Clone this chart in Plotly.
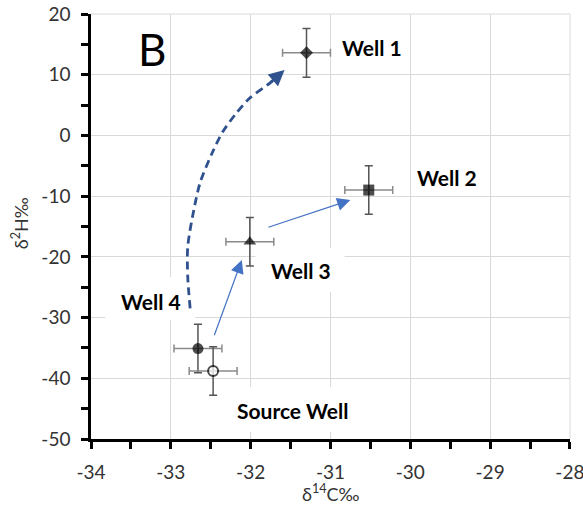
import plotly.graph_objects as go

# ---------------- data ----------------
wells = ["Well 1", "Well 2", "Well 3", "Well 4", "Source Well"]
d14c = [-31.30, -30.52, -32.01, -32.66, -32.47]
d2h = [13.6, -9.0, -17.5, -35.1, -38.8]
d14c_err = [0.3, 0.3, 0.3, 0.3, 0.3]
d2h_err = [4.0, 4.0, 4.0, 4.0, 4.0]
symbols = ["diamond", "square", "triangle-up", "circle", "circle"]
fills = ["black", "black", "black", "black", "white"]

x_ticks = [-34, -33, -32, -31, -30, -29, -28]
y_ticks = [20, 10, 0, -10, -20, -30, -40, -50]

# label positions (data coords)
label_x = [-30.48, -29.54, -31.37, -33.25, -31.47]
label_y = [14.5, -7.0, -22.3, -27.3, -45.3]

# dashed curved path (Well 4 -> Well 1)
curve_x = [-32.758, -32.788, -32.788, -32.704, -32.629, -32.475, -32.349, -32.181, -32.014, -31.763, -31.70]
curve_y = [-28.48, -23.27, -18.33, -11.74, -7.62, -2.68, 0.61, 3.64, 6.11, 8.59, 9.3]

# straight arrows: (start_x, start_y, end_x, end_y)
arrows = [
    (-32.462, -33.15, -32.111, -20.52),
    (-31.797, -15.20, -30.751, -10.64),
]

FONT = "Lato"
TXT = "#333333"
GRID = "#d9d9d9"

fig = go.Figure()

fig.add_trace(go.Scatter(
    x=curve_x, y=curve_y, mode="lines",
    line=dict(color="#2F528F", width=2.8, dash="8px,5px", shape="spline", smoothing=0.8),
    hoverinfo="skip", showlegend=False,
))

# error bars
fig.add_trace(go.Scatter(
    x=d14c, y=d2h, mode="markers",
    marker=dict(size=1, opacity=0),
    error_x=dict(type="data", array=d14c_err, color="#8a8a8a", thickness=1.5, width=4),
    error_y=dict(type="data", array=d2h_err, color="#555555", thickness=1.5, width=4),
    hoverinfo="skip", showlegend=False,
))

# markers on top
fig.add_trace(go.Scatter(
    x=d14c, y=d2h, mode="markers", text=wells,
    marker=dict(symbol=symbols, size=[10, 11, 11, 11, 10], color=fills,
                line=dict(color="black", width=[0, 0, 0, 0, 2])),
    showlegend=False,
))

# outer gridlines at the top and right edges of the plot area
fig.add_shape(type="line", xref="paper", yref="paper", x0=0, x1=1, y0=1, y1=1,
              line=dict(color=GRID, width=1), layer="between")
fig.add_shape(type="line", xref="paper", yref="paper", x0=1, x1=1, y0=0, y1=1,
              line=dict(color=GRID, width=1), layer="between")

# white text-box backgrounds (cover gridlines only)
boxes = [
    (-31.939, -30.823, -18.54, -25.79),
    (-33.821, -32.692, -23.32, -30.40),
    (-32.328, -30.609, -41.44, -48.85),
]
for x0, x1, y0, y1 in boxes:
    fig.add_shape(type="rect", x0=x0, x1=x1, y0=y0, y1=y1, xref="x", yref="y",
                  fillcolor="white", line=dict(width=0), layer="between")

for name, lx, ly in zip(wells, label_x, label_y):
    fig.add_annotation(x=lx, y=ly, text="<b>%s</b>" % name, showarrow=False,
                       font=dict(family=FONT, size=21, color="black"),
                       xanchor="center", yanchor="middle")

fig.add_annotation(x=-33.237, y=14.3, text="B", showarrow=False,
                   font=dict(family=FONT, size=44, color="black"),
                   xanchor="center", yanchor="middle")

for sx, sy, ex, ey in arrows:
    fig.add_annotation(x=ex, y=ey, ax=sx, ay=sy, xref="x", yref="y", axref="x", ayref="y",
                       showarrow=True, arrowhead=2, arrowsize=2.2, arrowwidth=1.2,
                       arrowcolor="#4472C4", text="", standoff=0)

# arrowhead of the dashed curve
fig.add_annotation(x=-31.575, y=10.78, ax=curve_x[-2], ay=curve_y[-2], xref="x", yref="y",
                   axref="x", ayref="y", showarrow=True, arrowhead=2, arrowsize=1.2,
                   arrowwidth=2.6, arrowcolor="#2F528F", text="", standoff=0)

# axis titles
fig.add_annotation(x=0.5, y=-0.127, xref="paper", yref="paper", text="δ<sup>14</sup>C‰",
                   showarrow=False, font=dict(family=FONT, size=18, color=TXT),
                   xanchor="center", yanchor="middle")
fig.add_annotation(x=-0.148, y=0.508, xref="paper", yref="paper", text="δ<sup>2</sup>H‰",
                   showarrow=False, textangle=-90, font=dict(family=FONT, size=18, color=TXT),
                   xanchor="center", yanchor="middle")

axis_common = dict(
    showline=True, linecolor="black", linewidth=2.5,
    ticks="outside", ticklen=7, tickwidth=2.5, tickcolor="black",
    showgrid=True, gridcolor=GRID, gridwidth=1, zeroline=False,
    tickfont=dict(family=FONT, size=19, color=TXT),
    mirror=False, automargin=False, ticklabeloverflow="allow",
)

fig.update_xaxes(range=[-34, -27.999], tickvals=x_ticks, ticktext=[str(v) for v in x_ticks],
                 ticklabelstandoff=7,
                 minor=dict(ticks="outside", dtick=0.5, ticklen=7, tickwidth=2.5, tickcolor="black", showgrid=False),
                 **axis_common)
fig.update_yaxes(range=[-50, 20.002], tickvals=y_ticks, ticktext=[str(v) for v in y_ticks],
                 ticklabelstandoff=7,
                 minor=dict(ticks="outside", dtick=5, ticklen=7, tickwidth=2.5, tickcolor="black", showgrid=False),
                 **axis_common)

fig.update_layout(
    width=583, height=509,
    margin=dict(l=91, r=13, t=14, b=70),
    plot_bgcolor="white", paper_bgcolor="white",
    showlegend=False,
)

fig.write_html("out.html", config={"displayModeBar": False},
               post_script="document.body.style.margin='0';document.body.style.overflow='hidden';")
